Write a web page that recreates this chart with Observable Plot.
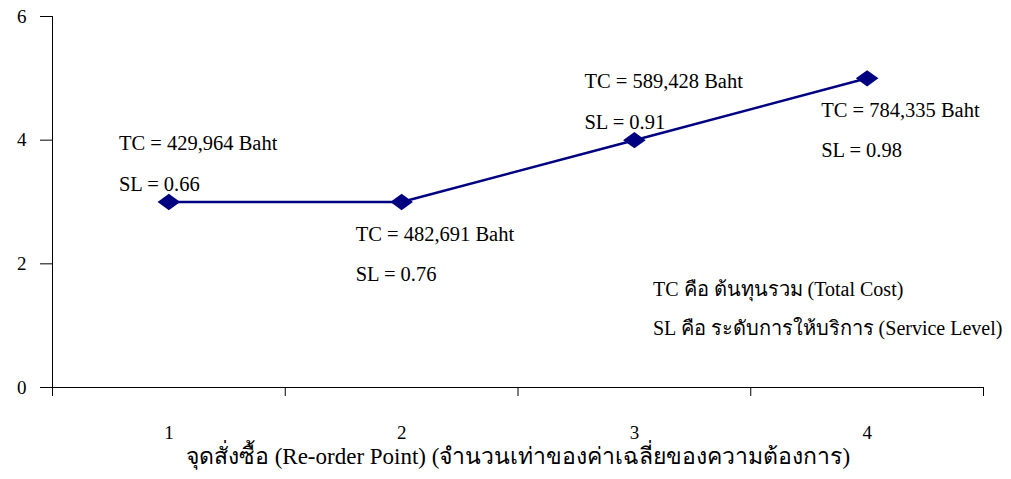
<!DOCTYPE html>
<html>
<head>
<meta charset="utf-8">
<script src="https://cdn.jsdelivr.net/npm/d3@7"></script>
<script src="https://cdn.jsdelivr.net/npm/@observablehq/plot@0.6"></script>
<style>
  html, body { margin: 0; padding: 0; background: #fff; }
  #chart svg, #chart svg text { font-family: "Liberation Serif", "Times New Roman", Times, serif !important; }
</style>
</head>
<body>
<div id="chart"></div>
<script>
// Data
const reorderPoints = [1, 2, 3, 4];
const values = [3, 3, 4, 5];
const tcLabels = ["TC = 429,964 Baht", "TC = 482,691 Baht", "TC = 589,428 Baht", "TC = 784,335 Baht"];
const slLabels = ["SL = 0.66", "SL = 0.76", "SL = 0.91", "SL = 0.98"];
// label offset direction relative to point: above (-1) or below (+1)
const labelSide = [-1, 1, -1, 1];
const yTicks = [0, 2, 4, 6];
const xLabel = "จุดสั่งซื้อ (Re-order Point) (จำนวนเท่าของค่าเฉลี่ยของความต้องการ)";
const noteLines = ["TC คือ ต้นทุนรวม (Total Cost)", "SL คือ ระดับการให้บริการ (Service Level)"];
const noteX = [3.08, 3.08];
const noteY = [1.58, 0.95];

const data = reorderPoints.map((x, i) => ({x, y: values[i], tc: tcLabels[i], sl: slLabels[i], side: labelSide[i]}));
const above = data.filter(d => d.side < 0);
const below = data.filter(d => d.side > 0);
const notes = noteLines.map((t, i) => ({t, x: noteX[i], y: noteY[i]}));

// Flattened diamond (wider than tall), like Excel's marker
const flatDiamond = {
  draw(context, size) {
    const w = Math.sqrt(size) * 0.75, h = w * 0.72;
    context.moveTo(0, -h); context.lineTo(w, 0); context.lineTo(0, h); context.lineTo(-w, 0); context.closePath();
  }
};

const navy = "#000080";
const fs = 20.5;

const chart = Plot.plot({
  width: 1011,
  height: 479,
  marginTop: 16,
  marginBottom: 92,
  marginLeft: 52,
  marginRight: 28,
  style: {color: "#000", background: "#fff"},
  x: {domain: [0.5, 4.5]},
  y: {domain: [0, 6]},
  marks: [
    Plot.axisY({ticks: yTicks, tickSize: 12, tickPadding: 14, fontSize: 19, tickFormat: d => String(d), label: null, stroke: "#000"}),
    Plot.axisX({ticks: [0.5, 1.5, 2.5, 3.5, 4.5], tickSize: 9, tickFormat: () => "", label: null, stroke: "#000"}),
    Plot.axisX({ticks: reorderPoints, tickSize: 0, tickPadding: 38, fontSize: 19, tickFormat: d => String(d), label: null}),
    Plot.ruleY([0], {stroke: "#000"}),
    Plot.ruleX([0.5], {y1: 0, y2: 6, stroke: "#000"}),
    Plot.line(data, {x: "x", y: "y", stroke: navy, strokeWidth: 2.5}),
    Plot.dot(data, {x: "x", y: "y", symbol: flatDiamond, r: 8.5, fill: navy, stroke: null}),
    Plot.text(above, {x: "x", y: "y", text: "tc", textAnchor: "start", dx: -50, dy: -59, fontSize: fs, fill: "#000"}),
    Plot.text(above, {x: "x", y: "y", text: "sl", textAnchor: "start", dx: -50, dy: -18, fontSize: fs, fill: "#000"}),
    Plot.text(below, {x: "x", y: "y", text: "tc", textAnchor: "start", dx: -46, dy: 32, fontSize: fs, fill: "#000"}),
    Plot.text(below, {x: "x", y: "y", text: "sl", textAnchor: "start", dx: -46, dy: 72, fontSize: fs, fill: "#000"}),
    Plot.text(notes, {x: "x", y: "y", text: "t", textAnchor: "start", fontSize: 20, fill: "#000"}),
    Plot.text([xLabel], {frameAnchor: "bottom", dy: 76, text: d => d, fontSize: 23, fill: "#000"})
  ]
});
document.getElementById("chart").appendChild(chart);
</script>
</body>
</html>
